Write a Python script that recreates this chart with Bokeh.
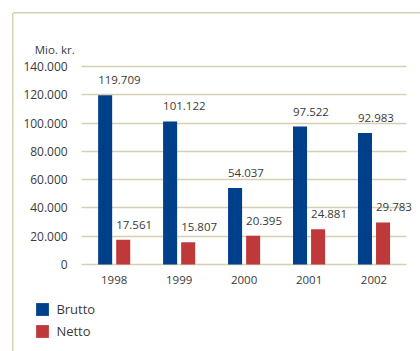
from bokeh.plotting import figure
from bokeh.models import (ColumnDataSource, Range1d, LabelSet, Label, Legend, LegendItem,
                          FixedTicker, Grid)
from bokeh.core.properties import value
from bokeh.transform import dodge
from bokeh.embed import file_html
from bokeh.resources import INLINE

years = ["1998", "1999", "2000", "2001", "2002"]
brutto = [119709, 101122, 54037, 97522, 92983]
netto = [17561, 15807, 20395, 24881, 29783]
y_ticks = [0, 20000, 40000, 60000, 80000, 100000, 120000, 140000]
unit_label = "Mio. kr."
series_names = ["Brutto", "Netto"]

BLUE = "#003f8a"
RED = "#c0393a"
GRID = "#d6d0b0"
TEXT = "#3a3a3a"
FONT = "Open Sans"

# ---- layout constants (pixels) ----
W, H = 420, 351
FL, FT = 14, 14                 # frame left / top (frame spans to right & bottom edge)
PLOT_L, PLOT_R = 81.2, 406.0    # x extent of the bar area
PLOT_T, PLOT_B = 66.0, 264.0    # y pixel of y_ticks[-1] and of 0
n = len(years)
px_per_cat = (PLOT_R - PLOT_L) / n
x_start = -(PLOT_L - FL) / px_per_cat
x_end = n + (W - PLOT_R) / px_per_cat
ymax = y_ticks[-1]
px_per_val = (PLOT_B - PLOT_T) / ymax
y_end = ymax + (PLOT_T - FT) / px_per_val
y_start = -(H - PLOT_B) / px_per_val


def fmt(v):
    return f"{v:,}".replace(",", ".")


xpos = [i + 0.5 for i in range(n)]
src = ColumnDataSource(dict(
    x=xpos, year=years, brutto=brutto, netto=netto,
    brutto_txt=[fmt(v) for v in brutto], netto_txt=[fmt(v) for v in netto],
))

p = figure(x_range=Range1d(x_start, x_end), y_range=Range1d(y_start, y_end), width=W, height=H,
           min_border_left=FL, min_border_right=0, min_border_top=FT, min_border_bottom=0,
           output_backend="svg", toolbar_location=None)
p.outline_line_color = None
p.background_fill_color = None
p.border_fill_color = None
# frame border of the chart box (top and left lines)
p.styles = {
    "background-color": "white",
    "background-image": f"linear-gradient({GRID}, {GRID}), linear-gradient({GRID}, {GRID})",
    "background-size": "100% 1.5px, 1.5px 100%",
    "background-position": "13px 12px, 12px 13px",
    "background-repeat": "no-repeat",
}

off = 0.139
w = 0.216
rb = p.vbar(x=dodge("x", -off), top="brutto", width=w, source=src,
            fill_color=BLUE, line_color=None)
rn = p.vbar(x=dodge("x", off), top="netto", width=w, source=src,
            fill_color=RED, line_color=None)

for col, dx in (("brutto", -off - w / 2), ("netto", off - w / 2)):
    ls = LabelSet(x=dodge("x", dx), y=col, text=col + "_txt", source=src,
                  text_align="left", text_baseline="alphabetic", y_offset=11,
                  text_font=value(FONT), text_font_size="11.5px", text_color=TEXT)
    p.add_layout(ls)

# axes (drawn at the data origin)
xa = p.xaxis[0]
xa.fixed_location = 0
xa.ticker = FixedTicker(ticks=xpos)
xa.major_label_overrides = {x: y for x, y in zip(xpos, years)}
xa.axis_line_color = None
xa.major_tick_line_color = None
xa.minor_tick_line_color = None
xa.major_label_standoff = 5
xa.major_label_text_font = FONT
xa.major_label_text_font_size = "11.5px"
xa.major_label_text_color = TEXT

ya = p.yaxis[0]
ya.fixed_location = 0
ya.ticker = FixedTicker(ticks=y_ticks)
ya.major_label_overrides = {v: fmt(v) for v in y_ticks}
ya.axis_line_color = None
ya.major_tick_line_color = None
ya.minor_tick_line_color = None
ya.major_label_standoff = 8
ya.major_label_text_font = FONT
ya.major_label_text_font_size = "12px"
ya.major_label_text_color = TEXT

p.xgrid.grid_line_color = None
yg = p.ygrid[0]
yg.ticker = FixedTicker(ticks=y_ticks)
yg.grid_line_color = GRID
yg.grid_line_width = 1.3
if "cross_bounds" in Grid.properties():
    yg.cross_bounds = (0, n)
else:
    yg.grid_line_color = None
    p.segment(x0=[0] * len(y_ticks), x1=[n] * len(y_ticks), y0=y_ticks, y1=y_ticks,
              line_color=GRID, line_width=1.3)

# unit label above the value axis
p.add_layout(Label(x=0, y=ymax, x_offset=-7, y_offset=17, text=unit_label,
                   text_align="right", text_baseline="alphabetic",
                   text_font=FONT, text_font_size="11.5px", text_color=TEXT))

legend = Legend(items=[LegendItem(label=series_names[0], renderers=[rb]),
                       LegendItem(label=series_names[1], renderers=[rn])],
                location=(20.4, 11.5), orientation="vertical",
                padding=0, margin=0, spacing=4, border_line_color=None,
                background_fill_alpha=0, glyph_width=16, glyph_height=16,
                label_standoff=6,
                label_text_font=FONT, label_text_font_size="13px", label_text_color=TEXT)
p.add_layout(legend, "center")

open("out.html", "w").write(file_html(p, INLINE))
